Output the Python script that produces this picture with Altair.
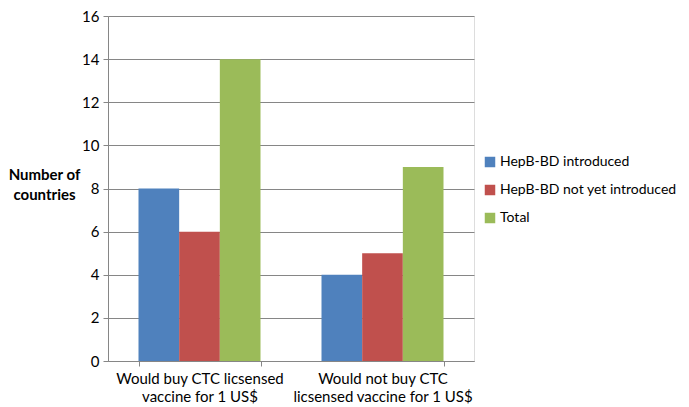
import altair as alt
import pandas as pd

categories = ["Would buy CTC licsensed\nvaccine for 1 US$", "Would not buy CTC\nlicsensed vaccine for 1 US$"]
series = ["HepB-BD introduced", "HepB-BD not yet introduced", "Total"]
introduced = [8, 4]
not_yet = [6, 5]
total = [14, 9]
colors = ["#4F81BD", "#C0504D", "#9BBB59"]

rows = []
for i, c in enumerate(categories):
    for s, vals in zip(series, [introduced, not_yet, total]):
        rows.append({"category": c, "series": s, "value": vals[i]})
df = pd.DataFrame(rows)

FONT = "Lato"

chart = alt.Chart(df).mark_bar().encode(
    x=alt.X("category:N", sort=categories,
            scale=alt.Scale(paddingInner=1/3, paddingOuter=1/6),
            axis=alt.Axis(title=None, labelAngle=0, labelExpr="split(datum.label, '\\n')",
                          labelFontSize=15, labelFont=FONT, labelColor="#000000",
                          labelPadding=5, labelLineHeight=18,
                          tickBand="extent", tickColor="#868686", tickSize=5,
                          domainColor="#868686", grid=False)),
    xOffset=alt.XOffset("series:N", sort=series),
    y=alt.Y("value:Q", scale=alt.Scale(domain=[0, 16]),
            axis=alt.Axis(values=list(range(0, 17, 2)), title=["Number of", "countries"],
                          titleAngle=0, titleFontWeight="bold", titleFontSize=15, titleFont=FONT,
                          titleAlign="center", titleBaseline="top", titleX=-64, titleY=151,
                          titleLineHeight=20, titleColor="#000000",
                          labelFontSize=15, labelFont=FONT, labelColor="#000000", labelPadding=4,
                          tickColor="#868686", tickSize=5, domainColor="#868686",
                          gridColor="#868686", gridWidth=1)),
    color=alt.Color("series:N", sort=series, scale=alt.Scale(domain=series, range=colors),
                    legend=alt.Legend(title=None, orient="none", legendX=375, legendY=139,
                                      symbolType="square", symbolSize=110, symbolStrokeWidth=0,
                                      labelFontSize=14, labelFont=FONT, labelColor="#000000",
                                      labelLimit=300, rowPadding=14, labelOffset=3)),
).properties(
    width=366, height=345,
    autosize=alt.AutoSizeParams(type="none"),
    padding={"left": 100, "top": 8, "right": 207, "bottom": 44},
).configure_view(stroke=None).configure(background="white")

chart.save("out.html", embed_options={"renderer": "svg", "actions": False})
